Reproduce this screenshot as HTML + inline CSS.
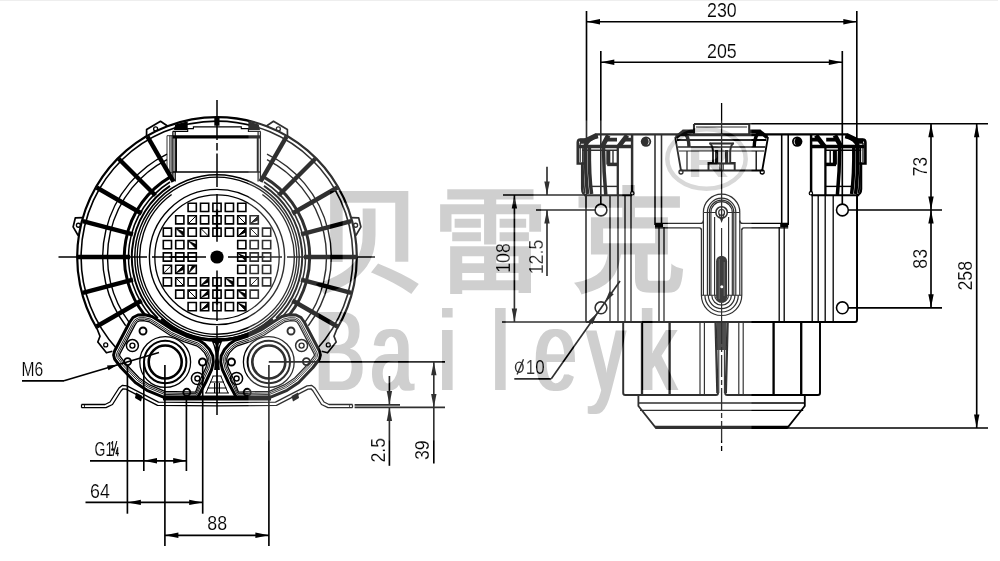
<!DOCTYPE html>
<html><head><meta charset="utf-8"><title>Baileyk</title>
<style>html,body{margin:0;padding:0;background:#fff}svg{display:block}</style></head>
<body>
<svg width="1000" height="561" viewBox="0 0 1000 561">
<rect width="1000" height="561" fill="#fff"/>
<rect width="998" height="1" fill="#eeeeee"/>
<g id="front" fill="none" stroke="#000" stroke-linecap="butt">
<path d="M97.17 329.00A139.8 139.8 0 1 1 336.83 329.00" stroke-width="2.2" />
<path d="M116.80 348.81A135.9 135.9 0 1 1 317.20 348.81" stroke-width="1.6" />
<path d="M267.00 154.22A114.3 114.3 0 0 1 308.28 325.79" stroke-width="1.4" />
<path d="M167.00 154.22A114.3 114.3 0 0 0 125.72 325.79" stroke-width="1.4" />
<path d="M267.00 159.58A109.5 109.5 0 0 1 304.45 322.90" stroke-width="1.4" />
<path d="M167.00 159.58A109.5 109.5 0 0 0 129.55 322.90" stroke-width="1.4" />
<path d="M264.00 177.10A92.7 92.7 0 0 1 289.04 315.34" stroke-width="3.0" />
<path d="M170.00 177.10A92.7 92.7 0 0 0 144.96 315.34" stroke-width="3.0" />
<path d="M264.00 182.01A88.5 88.5 0 0 1 282.77 316.22" stroke-width="1.5" />
<path d="M170.00 182.01A88.5 88.5 0 0 0 151.23 316.22" stroke-width="1.5" />
<path d="M264.00 185.94A85.2 85.2 0 0 1 276.18 318.29" stroke-width="2.0" />
<path d="M170.00 185.94A85.2 85.2 0 0 0 157.82 318.29" stroke-width="2.0" />
<circle cx="217.00" cy="257.00" r="82.2" stroke-width="1.50" />
<circle cx="217.00" cy="257.00" r="79.8" stroke-width="1.30" />
<path d="M262.38 194.54A77.2 77.2 0 0 1 217.00 334.20" stroke-width="1.4" />
<path d="M171.62 194.54A77.2 77.2 0 0 0 217.00 334.20" stroke-width="1.4" />
<path d="M272.67 318.83A83.2 83.2 0 0 1 161.33 318.83" stroke-width="3.2" />
<circle cx="217.00" cy="257.00" r="67.6" stroke-width="1.40" />
<circle cx="217.00" cy="257.00" r="62.2" stroke-width="1.30" />
<path d="M173.50 181.66L147.50 136.62" stroke-width="4.40" />
<path d="M260.50 181.66L286.50 136.62" stroke-width="4.40" />
<path d="M155.48 195.48L118.71 158.71" stroke-width="4.40" />
<path d="M278.52 195.48L315.29 158.71" stroke-width="4.40" />
<path d="M141.66 213.50L96.62 187.50" stroke-width="4.40" />
<path d="M292.34 213.50L337.38 187.50" stroke-width="4.40" />
<path d="M132.96 234.48L82.74 221.02" stroke-width="4.40" />
<path d="M301.04 234.48L351.26 221.02" stroke-width="4.40" />
<path d="M130.00 257.00L78.00 257.00" stroke-width="4.40" />
<path d="M304.00 257.00L356.00 257.00" stroke-width="4.40" />
<path d="M132.96 279.52L82.74 292.98" stroke-width="4.40" />
<path d="M301.04 279.52L351.26 292.98" stroke-width="4.40" />
<path d="M141.66 300.50L96.62 326.50" stroke-width="4.40" />
<path d="M292.34 300.50L337.38 326.50" stroke-width="4.40" />
<path d="M188.1 203.3h8.2v8.2h-8.2zM200.5 203.3h8.2v8.2h-8.2zM212.9 203.3h8.2v8.2h-8.2zM225.3 203.3h8.2v8.2h-8.2zM237.7 203.3h8.2v8.2h-8.2zM175.7 215.7h8.2v8.2h-8.2zM188.1 215.7h8.2v8.2h-8.2zM200.5 215.7h8.2v8.2h-8.2zM212.9 215.7h8.2v8.2h-8.2zM225.3 215.7h8.2v8.2h-8.2zM237.7 215.7h8.2v8.2h-8.2zM250.1 215.7h8.2v8.2h-8.2zM163.3 228.1h8.2v8.2h-8.2zM175.7 228.1h8.2v8.2h-8.2zM188.1 228.1h8.2v8.2h-8.2zM200.5 228.1h8.2v8.2h-8.2zM212.9 228.1h8.2v8.2h-8.2zM225.3 228.1h8.2v8.2h-8.2zM237.7 228.1h8.2v8.2h-8.2zM250.1 228.1h8.2v8.2h-8.2zM262.5 228.1h8.2v8.2h-8.2zM163.3 240.5h8.2v8.2h-8.2zM175.7 240.5h8.2v8.2h-8.2zM188.1 240.5h8.2v8.2h-8.2zM237.7 240.5h8.2v8.2h-8.2zM250.1 240.5h8.2v8.2h-8.2zM262.5 240.5h8.2v8.2h-8.2zM163.3 252.9h8.2v8.2h-8.2zM175.7 252.9h8.2v8.2h-8.2zM188.1 252.9h8.2v8.2h-8.2zM237.7 252.9h8.2v8.2h-8.2zM250.1 252.9h8.2v8.2h-8.2zM262.5 252.9h8.2v8.2h-8.2zM163.3 265.3h8.2v8.2h-8.2zM175.7 265.3h8.2v8.2h-8.2zM188.1 265.3h8.2v8.2h-8.2zM237.7 265.3h8.2v8.2h-8.2zM250.1 265.3h8.2v8.2h-8.2zM262.5 265.3h8.2v8.2h-8.2zM163.3 277.7h8.2v8.2h-8.2zM175.7 277.7h8.2v8.2h-8.2zM188.1 277.7h8.2v8.2h-8.2zM200.5 277.7h8.2v8.2h-8.2zM212.9 277.7h8.2v8.2h-8.2zM225.3 277.7h8.2v8.2h-8.2zM237.7 277.7h8.2v8.2h-8.2zM250.1 277.7h8.2v8.2h-8.2zM262.5 277.7h8.2v8.2h-8.2zM175.7 290.1h8.2v8.2h-8.2zM188.1 290.1h8.2v8.2h-8.2zM200.5 290.1h8.2v8.2h-8.2zM212.9 290.1h8.2v8.2h-8.2zM225.3 290.1h8.2v8.2h-8.2zM237.7 290.1h8.2v8.2h-8.2zM250.1 290.1h8.2v8.2h-8.2zM188.1 302.5h8.2v8.2h-8.2zM200.5 302.5h8.2v8.2h-8.2zM212.9 302.5h8.2v8.2h-8.2zM225.3 302.5h8.2v8.2h-8.2zM237.7 302.5h8.2v8.2h-8.2z" stroke-width="1.60" />
<path d="M250.1 223.9L258.3 215.7L258.3 220.2zM175.7 228.1L183.9 236.3L183.9 231.8zM237.7 236.3L245.9 228.1L245.9 232.6zM188.1 240.5L196.3 248.7L196.3 244.2zM175.7 273.5L183.9 265.3L183.9 269.8zM188.1 273.5L196.3 265.3L192.2 265.3zM200.5 285.9L208.7 277.7L208.7 282.2zM225.3 277.7L233.5 285.9L233.5 281.4zM200.5 298.3L208.7 290.1L208.7 294.6zM237.7 290.1L245.9 298.3L245.9 293.8zM200.5 310.7L208.7 302.5L208.7 307.0zM237.7 302.5L245.9 310.7L245.9 306.2zM237.7 252.9L245.9 261.1L245.9 256.6z" fill="#000" stroke="none"/>
<path d="M188.1 223.9L196.3 215.7M237.7 215.7L245.9 223.9M250.1 223.9L258.3 215.7M175.7 228.1L183.9 236.3M200.5 228.1L208.7 236.3M237.7 236.3L245.9 228.1M250.1 228.1L258.3 236.3M188.1 240.5L196.3 248.7M163.3 273.5L171.5 265.3M175.7 273.5L183.9 265.3M188.1 273.5L196.3 265.3M175.7 277.7L183.9 285.9M200.5 285.9L208.7 277.7M225.3 277.7L233.5 285.9M250.1 285.9L258.3 277.7M188.1 290.1L196.3 298.3M200.5 298.3L208.7 290.1M237.7 290.1L245.9 298.3M200.5 310.7L208.7 302.5M237.7 302.5L245.9 310.7M237.7 252.9L245.9 261.1" stroke-width="1.00" />
<path d="M169.40 257.00L196.20 257.00" stroke-width="1.80" />
<path d="M237.80 257.00L264.60 257.00" stroke-width="1.80" />
<path d="M217.00 209.40L217.00 236.20" stroke-width="2.20" />
<path d="M217.00 277.80L217.00 304.60" stroke-width="2.20" />
<circle cx="217.0" cy="257.0" r="6.6" fill="#000" stroke="none"/>
<path d="M172.9 131.4V181.4M175.2 131.4V181.4M260.4 131.4V181.4M258.1 131.4V181.4" stroke-width="1.25"/>
<path d="M176.3 137V172M257.4 137V172" stroke-width="1.3"/>
<path d="M172.7 136.9H260.6" stroke-width="3.1"/>
<path d="M172.7 172.1H260.6" stroke-width="1.5"/>
<path d="M167 135.7V172.9M169.8 135.7V172.9M171.2 135.7V172.9M167 135.7H172.7M167 172.9H172.7" stroke-width="0.8"/>
<path d="M172.7 131.4H187.7V128.6H193.4V126.9H241.3V128.6H248.4V131.4H260.6" stroke-width="1.1"/>
<path d="M174 130L175.2 124.6L187.7 121.2V130ZM260 130L258.8 124.6L248.4 121.2V130Z" fill="#000" stroke="none"/>
<path d="M214.3 117h5.2v8.7h-5.2z" fill="#000" stroke="none"/>
<path d="M146.52 136.38L146.63 129.53L160.51 121.29L167.85 126.23" stroke-width="1.70" stroke-linejoin="round"/>
<circle cx="155.64" cy="128.94" r="2.0" stroke-width="1.30" />
<path d="M82.89 217.53L75.28 217.96L73.11 226.94L78.15 235.51" stroke-width="1.70" stroke-linejoin="round"/>
<circle cx="78.39" cy="225.25" r="2.0" stroke-width="1.30" />
<path d="M97.17 329.00L100.00 336.22L97.81 342.01L106.42 352.79L112.37 351.21" stroke-width="1.70" stroke-linejoin="round"/>
<circle cx="105.72" cy="344.88" r="2.0" stroke-width="1.30" />
<path d="M287.48 136.38L287.37 129.53L273.49 121.29L266.15 126.23" stroke-width="1.70" stroke-linejoin="round"/>
<circle cx="278.36" cy="128.94" r="2.0" stroke-width="1.30" />
<path d="M351.11 217.53L358.72 217.96L360.89 226.94L355.85 235.51" stroke-width="1.70" stroke-linejoin="round"/>
<circle cx="355.61" cy="225.25" r="2.0" stroke-width="1.30" />
<path d="M336.83 329.00L334.00 336.22L336.19 342.01L327.58 352.79L321.63 351.21" stroke-width="1.70" stroke-linejoin="round"/>
<circle cx="328.28" cy="344.88" r="2.0" stroke-width="1.30" />
<path d="M199.00 340.30L186.00 336.00L173.00 330.00L160.00 321.50L152.00 316.50L145.00 314.80L138.00 315.00L133.00 317.50L129.50 322.50L114.60 351.00L113.60 355.00L114.60 359.00L121.00 367.50L135.30 382.50L147.00 390.30L164.00 397.30L197.50 397.80L205.60 382.50L211.60 369.50L213.30 362.00L212.80 356.00L209.50 349.50L204.50 344.00Z" stroke-width="3.00" stroke-linejoin="round"/>
<path d="M197.85 342.96L184.93 338.70L171.59 332.53L158.43 323.94L150.82 319.15L144.69 317.68L138.64 317.83L134.92 319.67L132.04 323.90L117.20 352.27L116.50 355.00L117.10 357.52L123.18 365.58L137.21 380.32L148.33 387.72L164.43 394.43L196.53 395.07L203.00 381.21L208.89 368.48L210.41 361.74L210.03 356.84L207.11 351.15L202.59 346.18Z" stroke-width="0.90" stroke-linejoin="round"/>
<path d="M197.25 344.34L184.38 340.09L170.86 333.84L157.62 325.20L150.21 320.52L144.53 319.17L138.97 319.29L135.91 320.80L133.36 324.62L118.55 352.93L118.00 355.00L118.39 356.76L124.30 364.59L138.20 379.19L149.02 386.39L164.65 392.95L196.03 393.65L201.66 380.54L207.48 367.95L208.92 361.61L208.59 357.28L205.88 352.00L201.60 347.31Z" stroke-width="0.90" stroke-linejoin="round"/>
<path d="M196.62 345.81L183.79 341.58L170.08 335.24L156.76 326.55L149.55 321.98L144.36 320.77L139.32 320.85L136.97 322.00L134.76 325.39L119.99 353.64L119.60 355.00L119.76 355.94L125.50 363.53L139.26 377.99L149.75 384.97L164.88 391.37L195.49 392.15L200.23 379.82L205.98 367.39L207.32 361.47L207.06 357.75L204.57 352.91L200.55 348.51Z" stroke-width="1.30" stroke-linejoin="round"/>
<circle cx="165.20" cy="362.00" r="16.5" stroke-width="2.60" />
<circle cx="165.20" cy="362.00" r="21.2" stroke-width="2.00" />
<circle cx="165.20" cy="362.00" r="25.4" stroke-width="1.30" />
<circle cx="143.00" cy="331.00" r="3.5" stroke-width="1.90" />
<circle cx="127.60" cy="361.60" r="3.5" stroke-width="1.90" />
<circle cx="202.50" cy="362.00" r="3.5" stroke-width="1.90" />
<circle cx="186.80" cy="392.30" r="3.5" stroke-width="1.90" />
<circle cx="132.40" cy="345.60" r="6.0" stroke-width="1.50" />
<circle cx="132.40" cy="345.60" r="2.5" stroke-width="1.40" />
<circle cx="197.40" cy="378.50" r="6.0" stroke-width="1.50" />
<circle cx="197.40" cy="378.50" r="2.5" stroke-width="1.40" />
<path d="M163.0 398H217.0" stroke-width="5.00" />
<path d="M235.00 340.30L248.00 336.00L261.00 330.00L274.00 321.50L282.00 316.50L289.00 314.80L296.00 315.00L301.00 317.50L304.50 322.50L319.40 351.00L320.40 355.00L319.40 359.00L313.00 367.50L298.70 382.50L287.00 390.30L270.00 397.30L236.50 397.80L228.40 382.50L222.40 369.50L220.70 362.00L221.20 356.00L224.50 349.50L229.50 344.00Z" stroke-width="3.00" stroke-linejoin="round"/>
<path d="M236.15 342.96L249.07 338.70L262.41 332.53L275.57 323.94L283.18 319.15L289.31 317.68L295.36 317.83L299.08 319.67L301.96 323.90L316.80 352.27L317.50 355.00L316.90 357.52L310.82 365.58L296.79 380.32L285.67 387.72L269.57 394.43L237.47 395.07L231.00 381.21L225.11 368.48L223.59 361.74L223.97 356.84L226.89 351.15L231.41 346.18Z" stroke-width="0.90" stroke-linejoin="round"/>
<path d="M236.75 344.34L249.62 340.09L263.14 333.84L276.38 325.20L283.79 320.52L289.47 319.17L295.03 319.29L298.09 320.80L300.64 324.62L315.45 352.93L316.00 355.00L315.61 356.76L309.70 364.59L295.80 379.19L284.98 386.39L269.35 392.95L237.97 393.65L232.34 380.54L226.52 367.95L225.08 361.61L225.41 357.28L228.12 352.00L232.40 347.31Z" stroke-width="0.90" stroke-linejoin="round"/>
<path d="M237.38 345.81L250.21 341.58L263.92 335.24L277.24 326.55L284.45 321.98L289.64 320.77L294.68 320.85L297.03 322.00L299.24 325.39L314.01 353.64L314.40 355.00L314.24 355.94L308.50 363.53L294.74 377.99L284.25 384.97L269.12 391.37L238.51 392.15L233.77 379.82L228.02 367.39L226.68 361.47L226.94 357.75L229.43 352.91L233.45 348.51Z" stroke-width="1.30" stroke-linejoin="round"/>
<circle cx="268.80" cy="362.00" r="16.5" stroke-width="2.60" />
<circle cx="268.80" cy="362.00" r="21.2" stroke-width="2.00" />
<circle cx="268.80" cy="362.00" r="25.4" stroke-width="1.30" />
<circle cx="291.00" cy="331.00" r="3.5" stroke-width="1.90" />
<circle cx="306.40" cy="361.60" r="3.5" stroke-width="1.90" />
<circle cx="231.50" cy="362.00" r="3.5" stroke-width="1.90" />
<circle cx="247.20" cy="392.30" r="3.5" stroke-width="1.90" />
<circle cx="301.60" cy="345.60" r="6.0" stroke-width="1.50" />
<circle cx="301.60" cy="345.60" r="2.5" stroke-width="1.40" />
<circle cx="236.60" cy="378.50" r="6.0" stroke-width="1.50" />
<circle cx="236.60" cy="378.50" r="2.5" stroke-width="1.40" />
<path d="M271.0 398H217.0" stroke-width="5.00" />
<path d="M211.5 340.5Q217.2 352 214.6 364L214.2 370H219.8L219.4 364Q216.8 352 222.5 340.5Z" fill="#000" stroke="none"/>
<path d="M209 339.5H225" stroke-width="3.2"/>
<path d="M213.8 343.2L216 347.5L215 343.2ZM220.2 343.2L218 347.5L219 343.2Z" fill="#fff" stroke="none"/>
<path d="M217 370V396M212.5 376h9M210 382h14M207.5 388h19M205 393h24M214.6 383v10M219.4 383v10" stroke-width="1.2"/>
<path d="M213.2 376L206 393M220.8 376L228 393" stroke-width="1.0"/>
<path d="M81.50 404.50L105.00 404.50L110.00 402.00L119.00 388.00L122.50 385.30L127.00 385.80L158.50 402.20L217.00 402.70" stroke-width="1.30" stroke-linejoin="round"/>
<path d="M81.50 407.70L106.00 407.70L112.50 404.50L121.00 391.00L123.00 388.80L126.00 389.20L157.50 405.40L217.00 405.80" stroke-width="1.30" stroke-linejoin="round"/>
<path d="M81.5 404.5V407.7" stroke-width="1.20" />
<path d="M84.5 404.5V407.7" stroke-width="0.80" />
<path d="M136.0 392.5L142.5 396L141.0 401.5L135.0 398Z" fill="#000" stroke="none"/>
<path d="M352.50 404.50L329.00 404.50L324.00 402.00L315.00 388.00L311.50 385.30L307.00 385.80L275.50 402.20L217.00 402.70" stroke-width="1.30" stroke-linejoin="round"/>
<path d="M352.50 407.70L328.00 407.70L321.50 404.50L313.00 391.00L311.00 388.80L308.00 389.20L276.50 405.40L217.00 405.80" stroke-width="1.30" stroke-linejoin="round"/>
<path d="M352.5 404.5V407.7" stroke-width="1.20" />
<path d="M349.5 404.5V407.7" stroke-width="0.80" />
<path d="M298.0 392.5L291.5 396L293.0 401.5L299.0 398Z" fill="#000" stroke="none"/>
</g>
<g id="side" fill="none" stroke="#000">
<path d="M596 134.3H847.2" stroke-width="2.21"/>
<path d="M586.00 196.00L586.00 320.00" stroke-width="1.56" />
<path d="M610.00 196.00L610.00 322.00" stroke-width="1.30" />
<path d="M618.00 196.00L618.00 322.00" stroke-width="1.30" />
<path d="M625.00 196.00L625.00 322.00" stroke-width="1.30" />
<path d="M631.00 196.00L631.00 322.00" stroke-width="1.30" />
<path d="M655.00 134.00L655.00 225.00" stroke-width="1.56" />
<path d="M661.50 134.00L661.50 225.00" stroke-width="1.56" />
<path d="M659.00 227.00L659.00 322.00" stroke-width="1.30" />
<path d="M664.00 227.00L664.00 322.00" stroke-width="1.30" />
<path d="M655.0 223.4H700.4Q703.4 223.4 703.4 220.4M655.0 227.8H699.4Q701.4 227.8 701.4 230" stroke-width="1.30" />
<path d="M655.0 225.5H663.0" stroke-width="3.38" />
<circle cx="646.0" cy="141.6" r="5.2" fill="#000" stroke="none"/>
<path d="M647.2 138.3A3.6 3.6 0 0 1 647.2 145A5 5 0 0 0 647.2 138.3Z" fill="#fff" stroke="none"/>
<path d="M584.0 163.5H577.8V142.5Q577.8 139.6 580.5 139.6H585.0" stroke-width="2.64" />
<path d="M580.2 143V162" stroke-width="1.22" />
<path d="M580.0 141.2H584.5L597.0 135.2" stroke-width="5.10" />
<path d="M579.0 146.4H631.4" stroke-width="3.51" />
<path d="M582.0 150.2H618.0" stroke-width="1.40" />
<path d="M602.3 146.4L608.3 135.4M618.8 146.4L627.2 135.4" stroke-width="4.75" />
<path d="M606.8 139.6H617.0M624.5 139.6H631.4" stroke-width="3.86" />
<path d="M585.0 147Q587.0 138.5 598.0 136.3" stroke-width="4.21" />
<path d="M583.0 147Q582.6 180 584.6 193" stroke-width="1.76" />
<path d="M585.6 147Q585.2 175 587.6 194" stroke-width="3.51" />
<path d="M589.4 147Q589.0 175 591.6 194" stroke-width="3.51" />
<path d="M582.0 163.5V189Q582.0 195 587.0 195" stroke-width="2.11" />
<path d="M603.5 146.4Q603.6 172 605.8 195" stroke-width="3.51" />
<path d="M608.3 150V164.6" stroke-width="4.03" />
<path d="M607.2 164.4H617.5" stroke-width="3.51" />
<path d="M613.0 150V163" stroke-width="1.40" />
<path d="M617.8 146.4V195" stroke-width="2.29" />
<path d="M632.1 134.3V192" stroke-width="2.46" />
<path d="M584.0 195.2H632.0" stroke-width="2.11" />
<path d="M590.0 186.4H618.0" stroke-width="1.40" />
<circle cx="632.30" cy="193.30" r="1.7" stroke-width="1.22" />
<path d="M857.20 196.00L857.20 320.00" stroke-width="1.56" />
<path d="M833.20 196.00L833.20 322.00" stroke-width="1.30" />
<path d="M825.20 196.00L825.20 322.00" stroke-width="1.30" />
<path d="M818.20 196.00L818.20 322.00" stroke-width="1.30" />
<path d="M812.20 196.00L812.20 322.00" stroke-width="1.30" />
<path d="M788.20 134.00L788.20 225.00" stroke-width="1.56" />
<path d="M781.70 134.00L781.70 225.00" stroke-width="1.56" />
<path d="M784.20 227.00L784.20 322.00" stroke-width="1.30" />
<path d="M779.20 227.00L779.20 322.00" stroke-width="1.30" />
<path d="M788.2 223.4H742.8Q739.8 223.4 739.8 220.4M788.2 227.8H743.8Q741.8 227.8 741.8 230" stroke-width="1.30" />
<path d="M788.2 225.5H780.2" stroke-width="3.38" />
<circle cx="797.2" cy="141.6" r="5.2" fill="#000" stroke="none"/>
<path d="M796.0 138.3A3.6 3.6 0 0 0 796.0 145A5 5 0 0 1 796.0 138.3Z" fill="#fff" stroke="none"/>
<path d="M859.2 163.5H865.4V142.5Q865.4 139.6 862.7 139.6H858.2" stroke-width="2.64" />
<path d="M863.0 143V162" stroke-width="1.22" />
<path d="M863.2 141.2H858.7L846.2 135.2" stroke-width="5.10" />
<path d="M864.2 146.4H811.8" stroke-width="3.51" />
<path d="M861.2 150.2H825.2" stroke-width="1.40" />
<path d="M840.9 146.4L834.9 135.4M824.4 146.4L816.0 135.4" stroke-width="4.75" />
<path d="M836.4 139.6H826.2M818.7 139.6H811.8" stroke-width="3.86" />
<path d="M858.2 147Q856.2 138.5 845.2 136.3" stroke-width="4.21" />
<path d="M860.2 147Q860.6 180 858.6 193" stroke-width="1.76" />
<path d="M857.6 147Q858.0 175 855.6 194" stroke-width="3.51" />
<path d="M853.8 147Q854.2 175 851.6 194" stroke-width="3.51" />
<path d="M861.2 163.5V189Q861.2 195 856.2 195" stroke-width="2.11" />
<path d="M839.7 146.4Q839.6 172 837.4 195" stroke-width="3.51" />
<path d="M834.9 150V164.6" stroke-width="4.03" />
<path d="M836.0 164.4H825.7" stroke-width="3.51" />
<path d="M830.2 150V163" stroke-width="1.40" />
<path d="M825.4 146.4V195" stroke-width="2.29" />
<path d="M811.1 134.3V192" stroke-width="2.46" />
<path d="M859.2 195.2H811.2" stroke-width="2.11" />
<path d="M853.2 186.4H825.2" stroke-width="1.40" />
<circle cx="810.90" cy="193.30" r="1.7" stroke-width="1.22" />
<path d="M586 322H855Q857 322 857 320V196" stroke-width="1.82"/>
<path d="M586 320V322" stroke-width="1.56"/>
<path d="M694 124H749.2M694 124V134M749.2 124V134" stroke-width="2.08"/>
<path d="M696 127H747" stroke-width="1.17"/>
<path d="M675.2 137L681 170.5H762.2L768 137" stroke-width="1.82"/>
<path d="M676 137.5L683.5 131.2H694M767.2 137.5L759.7 131.2H749.2" stroke-width="3.64"/>
<path d="M682 131.5Q688.5 133 689 147M761.2 131.5Q754.7 133 754.2 147" stroke-width="3.38"/>
<path d="M676 135.3H767.2" stroke-width="1.95"/>
<path d="M677 140H766.2" stroke-width="2.21"/>
<path d="M678 147H765.2" stroke-width="1.69"/>
<path d="M679 151H764.2" stroke-width="1.17"/>
<path d="M687 151V170.5M756.2 151V170.5" stroke-width="1.30"/>
<circle cx="681.00" cy="172.00" r="2.0" stroke-width="1.30" />
<circle cx="762.20" cy="172.00" r="2.0" stroke-width="1.30" />
<path d="M709.5 143Q712.5 145 713 151V163H708.5V170.5M733.7 143Q730.7 145 730.2 151V163H734.7V170.5" stroke-width="1.95"/>
<path d="M716.6 150V163M726.6 150V163" stroke-width="3.12"/>
<path d="M708.5 163.5H734.7" stroke-width="2.08"/>
<path d="M720 163.5V170.5M723.2 163.5V170.5" stroke-width="1.17"/>
<path d="M709.5 143.5H733.7" stroke-width="2.08"/>
<path d="M701.40 229V295.3A20.2 20.2 0 0 0 741.80 295.3V229" stroke-width="1.23" />
<path d="M703.40 212.4A18.2 18.2 0 0 1 739.80 212.4" stroke-width="1.23" />
<path d="M707.40 212.4A14.2 14.2 0 0 1 735.80 212.4" stroke-width="1.23" />
<path d="M709.40 212.4A12.2 12.2 0 0 1 733.80 212.4" stroke-width="1.23" />
<path d="M710.90 212.4A10.7 10.7 0 0 1 732.30 212.4" stroke-width="1.23" />
<path d="M703.40 212.4V295.3M739.80 212.4V295.3" stroke-width="1.17" />
<path d="M707.40 212.4V295.3M735.80 212.4V295.3" stroke-width="1.17" />
<path d="M709.40 212.4V295.3M733.80 212.4V295.3" stroke-width="1.17" />
<path d="M710.90 212.4V295.3M732.30 212.4V295.3" stroke-width="1.17" />
<path d="M714.60 217V295.3M728.60 217V295.3" stroke-width="1.17" />
<path d="M704.90 295.3A16.7 16.7 0 0 0 738.30 295.3" stroke-width="1.23" />
<path d="M708.30 295.3A13.3 13.3 0 0 0 734.90 295.3" stroke-width="1.23" />
<path d="M711.80 295.3A9.8 9.8 0 0 0 731.40 295.3" stroke-width="1.23" />
<path d="M714.80 295.3A6.8 6.8 0 0 0 728.40 295.3" stroke-width="1.23" />
<path d="M703.40 212.4H715.90M727.30 212.4H739.80" stroke-width="1.04" />
<path d="M701.40 295.3H741.80" stroke-width="1.04" />
<circle cx="721.60" cy="212.40" r="5.7" stroke-width="1.56" />
<circle cx="721.60" cy="212.40" r="2.9" stroke-width="1.17" />
<path d="M719.00 214L721.60 221.5L724.20 214" stroke-width="1.04" />
<path d="M716.1 261.2A5.5 5.5 0 0 1 727.1 261.2V297.3A5.5 5.5 0 0 1 716.1 297.3Z" fill="#111" stroke="none"/>
<circle cx="721.8000000000001" cy="286.8" r="1.5" fill="#fff" stroke="none"/>
<path d="M719.2 259V299M724.2 262V296" stroke="#777" stroke-width="0.59"/>
<path d="M721.60 302.80L721.60 322.00" stroke-width="1.17" />
<path d="M721.60 228.00L721.60 256.00" stroke-width="1.17" />
<path d="M623.2 322V393Q623.2 395 625.2 395H716Q718 395 718 393" stroke-width="1.95"/>
<path d="M820.0 322V393Q820.0 395 818.0 395H727.2Q725.2 395 725.2 393" stroke-width="1.95"/>
<path d="M642.00 322.00L642.00 395.00" stroke-width="2.34" />
<path d="M801.20 322.00L801.20 395.00" stroke-width="2.34" />
<path d="M669.60 322.00L669.60 395.00" stroke-width="2.34" />
<path d="M773.60 322.00L773.60 395.00" stroke-width="2.34" />
<path d="M700.00 322.00L700.00 395.00" stroke-width="1.17" />
<path d="M743.20 322.00L743.20 395.00" stroke-width="1.17" />
<path d="M704.40 322.00L704.40 395.00" stroke-width="1.17" />
<path d="M738.80 322.00L738.80 395.00" stroke-width="1.17" />
<path d="M717.0 322H726.2V350H717.0Z" fill="#000" stroke="none" opacity="0.85"/>
<path d="M716.2 322L718.0 393M727.0 322L725.2 393M715.0 322L716.8000000000001 393M728.2 322L726.4 393" stroke-width="1.17"/>
<path d="M718.8000000000001 350V393M724.4 350V393" stroke-width="1.04"/>
<path d="M638.4 395V406L656 428H787.2L804.8 406V395" stroke-width="1.82"/>
<path d="M638.4 403H804.8M640 410.3H803.2M655 426.3H788.2" stroke-width="1.30"/>
<path d="M721.6 103V220.4" stroke-width="1.30"/>
<path d="M721.6 322V451" stroke-width="1.30" stroke-dasharray="22 3 5 3"/>
<circle cx="601" cy="210" r="5.9" fill="#fff" stroke-width="1.56"/>
<circle cx="601" cy="307.8" r="5.9" fill="#fff" stroke-width="1.56"/>
<circle cx="842.4" cy="210" r="5.9" fill="#fff" stroke-width="1.56"/>
<circle cx="842.4" cy="307.8" r="5.9" fill="#fff" stroke-width="1.56"/>
</g>
<g id="dims" fill="none" stroke="#000">
<path d="M217.0 100V140M217.0 143V150.5M217.0 153.5V187M217.0 194V241.7M217.0 270.6V321M217.0 326V343M217.0 370V415" stroke-width="1.5"/>
<path d="M58.5 257.0H147M152 257.0H206M228 257.0H282M287 257.0H375" stroke-width="1.5"/>
<path d="M586.50 11.00L586.50 141.00" stroke-width="1.65" />
<path d="M856.80 11.00L856.80 141.00" stroke-width="1.65" />
<path d="M586.50 21.70L856.80 21.70" stroke-width="1.65" />
<path d="M586.50 21.70L600.00 19.00L600.00 24.40Z" fill="#000" stroke="none"/>
<path d="M856.80 21.70L843.30 24.40L843.30 19.00Z" fill="#000" stroke="none"/>
<path d="M600.80 51.00L600.80 204.00" stroke-width="1.65" />
<path d="M842.30 51.00L842.30 204.00" stroke-width="1.65" />
<path d="M600.80 62.20L842.30 62.20" stroke-width="1.65" />
<path d="M600.80 62.20L614.30 59.50L614.30 64.90Z" fill="#000" stroke="none"/>
<path d="M842.30 62.20L828.80 64.90L828.80 59.50Z" fill="#000" stroke="none"/>
<path d="M749.00 123.70L988.00 123.70" stroke-width="1.65" />
<path d="M788.00 428.00L988.00 428.00" stroke-width="1.65" />
<path d="M848.20 210.00L942.00 210.00" stroke-width="1.65" />
<path d="M848.20 307.80L942.00 307.80" stroke-width="1.65" />
<path d="M931.00 123.70L931.00 307.80" stroke-width="1.65" />
<path d="M931.00 123.70L933.70 137.20L928.30 137.20Z" fill="#000" stroke="none"/>
<path d="M931.00 210.00L928.30 196.50L933.70 196.50Z" fill="#000" stroke="none"/>
<path d="M931.00 210.00L933.70 223.50L928.30 223.50Z" fill="#000" stroke="none"/>
<path d="M931.00 307.80L928.30 294.30L933.70 294.30Z" fill="#000" stroke="none"/>
<path d="M976.70 123.70L976.70 428.00" stroke-width="1.65" />
<path d="M976.70 123.70L979.40 137.20L974.00 137.20Z" fill="#000" stroke="none"/>
<path d="M976.70 428.00L974.00 414.50L979.40 414.50Z" fill="#000" stroke="none"/>
<path d="M503.00 195.00L586.00 195.00" stroke-width="1.65" />
<path d="M536.00 210.00L595.30 210.00" stroke-width="1.65" />
<path d="M502.00 322.00L586.00 322.00" stroke-width="1.65" />
<path d="M514.40 195.00L514.40 322.00" stroke-width="1.65" />
<path d="M514.40 195.00L517.10 208.50L511.70 208.50Z" fill="#000" stroke="none"/>
<path d="M514.40 322.00L511.70 308.50L517.10 308.50Z" fill="#000" stroke="none"/>
<path d="M547.00 166.80L547.00 195.00" stroke-width="1.65" />
<path d="M547.00 195.00L544.30 181.50L549.70 181.50Z" fill="#000" stroke="none"/>
<path d="M547.00 210.00L547.00 276.00" stroke-width="1.65" />
<path d="M547.00 210.00L549.70 223.50L544.30 223.50Z" fill="#000" stroke="none"/>
<path d="M514.30 378.80L551.30 378.80" stroke-width="1.65" />
<path d="M551.30 378.80L620.00 281.00" stroke-width="1.65" />
<path d="M597.60 312.62L592.53 324.34L588.28 321.35Z" fill="#000" stroke="none"/>
<path d="M604.40 302.98L609.47 291.26L613.72 294.25Z" fill="#000" stroke="none"/>
<path d="M22.00 380.80L64.00 380.80" stroke-width="1.65" />
<path d="M64.00 380.80L159.00 352.50" stroke-width="1.65" />
<path d="M117.80 364.80L108.45 370.19L107.02 365.40Z" fill="#000" stroke="none"/>
<path d="M127.40 365.00L127.40 513.70" stroke-width="1.65" />
<path d="M143.80 362.00L143.80 471.00" stroke-width="1.65" />
<path d="M164.90 365.00L164.90 546.00" stroke-width="1.65" />
<path d="M186.40 395.00L186.40 471.00" stroke-width="1.65" />
<path d="M202.70 365.00L202.70 513.70" stroke-width="1.65" />
<path d="M268.90 365.00L268.90 546.00" stroke-width="1.65" />
<path d="M90.00 460.80L186.40 460.80" stroke-width="1.65" />
<path d="M143.80 460.80L157.00 458.10L157.00 463.50Z" fill="#000" stroke="none"/>
<path d="M186.40 460.80L173.20 463.50L173.20 458.10Z" fill="#000" stroke="none"/>
<path d="M85.50 502.40L202.70 502.40" stroke-width="1.65" />
<path d="M127.40 502.40L140.90 499.70L140.90 505.10Z" fill="#000" stroke="none"/>
<path d="M202.70 502.40L189.20 505.10L189.20 499.70Z" fill="#000" stroke="none"/>
<path d="M164.90 535.30L268.90 535.30" stroke-width="1.65" />
<path d="M164.90 535.30L178.40 532.60L178.40 538.00Z" fill="#000" stroke="none"/>
<path d="M268.90 535.30L255.40 538.00L255.40 532.60Z" fill="#000" stroke="none"/>
<path d="M268.80 361.80L445.00 361.80" stroke-width="1.65" />
<path d="M354.60 404.80L400.00 404.80" stroke-width="1.65" />
<path d="M354.60 407.40L445.00 407.40" stroke-width="1.65" />
<path d="M433.80 361.80L433.80 463.50" stroke-width="1.65" />
<path d="M433.80 361.80L436.50 375.30L431.10 375.30Z" fill="#000" stroke="none"/>
<path d="M433.80 407.40L431.10 393.90L436.50 393.90Z" fill="#000" stroke="none"/>
<path d="M389.40 376.00L389.40 404.60" stroke-width="1.65" />
<path d="M389.40 404.60L386.70 391.10L392.10 391.10Z" fill="#000" stroke="none"/>
<path d="M389.40 407.40L389.40 465.80" stroke-width="1.65" />
<path d="M389.40 407.40L392.10 420.90L386.70 420.90Z" fill="#000" stroke="none"/>
</g>
<g id="txt" opacity="0.99" fill="#000" stroke="#fff" stroke-width="0.15" font-family="'Liberation Sans', sans-serif">
<text transform="translate(721.9 17.3) scale(0.89 1)" font-size="20" text-anchor="middle">230</text>
<text transform="translate(721.9 57.6) scale(0.89 1)" font-size="20" text-anchor="middle">205</text>
<text transform="translate(926.8 166.7) rotate(-90) scale(0.89 1)" font-size="20" text-anchor="middle">73</text>
<text transform="translate(926.8 258.8) rotate(-90) scale(0.89 1)" font-size="20" text-anchor="middle">83</text>
<text transform="translate(971.6 275.7) rotate(-90) scale(0.89 1)" font-size="20" text-anchor="middle">258</text>
<text transform="translate(510.4 258) rotate(-90) scale(0.89 1)" font-size="20" text-anchor="middle">108</text>
<text transform="translate(542.6 257) rotate(-90) scale(0.89 1)" font-size="20" text-anchor="middle">12.5</text>
<text transform="translate(535.3 373.9) scale(0.85 1)" font-size="20" text-anchor="middle">10</text>
<text transform="translate(21.5 376.3) scale(0.8 1)" font-size="19.5" text-anchor="start">M6</text>
<text transform="translate(94.5 455.9) scale(0.7 1)" font-size="20" text-anchor="start">G1</text>
<text transform="translate(111.2 454.8) scale(0.42 1)" font-size="20.5" text-anchor="start" stroke="#000" stroke-width="0.9">¼</text>
<text transform="translate(90 498) scale(0.89 1)" font-size="20" text-anchor="start">64</text>
<text transform="translate(217.2 530.4) scale(0.89 1)" font-size="20" text-anchor="middle">88</text>
<text transform="translate(385 450.2) rotate(-90) scale(0.89 1)" font-size="20" text-anchor="middle">2.5</text>
<text transform="translate(429 450.2) rotate(-90) scale(0.89 1)" font-size="20" text-anchor="middle">39</text>
</g>
<g fill="none" stroke="#000" stroke-width="1.4"><ellipse cx="519.3" cy="367.2" rx="3.8" ry="5.1"/><path d="M523.5 359.2L517.1 374.4"/></g>
<filter id="hd" x="-5%" y="-5%" width="110%" height="110%"><feMorphology operator="dilate" radius="2.6 0"/></filter>
<g id="wm" opacity="0.19">
<rect x="248.5" y="120.5" width="503" height="320" fill="#fff"/>
<g fill="#000" stroke="none">
<g font-size="115" font-family="'Liberation Sans','Noto Sans CJK SC',sans-serif" font-weight="500" text-anchor="middle" stroke="#000" stroke-width="1.6">
<text x="369 490.5 629" y="283">贝雷克</text>
</g>
<text transform="translate(0 390) scale(0.66 1)" x="514.7 593.5 678.0 758.3 841.4 918.2 996.5" font-size="114" font-family="'Liberation Sans',sans-serif" text-anchor="middle" filter="url(#hd)">Baileyk</text>
</g>
<g opacity="0.8">
<ellipse cx="706.5" cy="159" rx="39.2" ry="29.7" fill="none" stroke="#000" stroke-width="4.5"/>
<text transform="translate(708 177) scale(1.3 1)" font-size="44.7" font-weight="700" text-anchor="middle" font-family="'Liberation Sans',sans-serif" fill="#000">R</text>
</g>
</g>
</svg>
</body></html>
